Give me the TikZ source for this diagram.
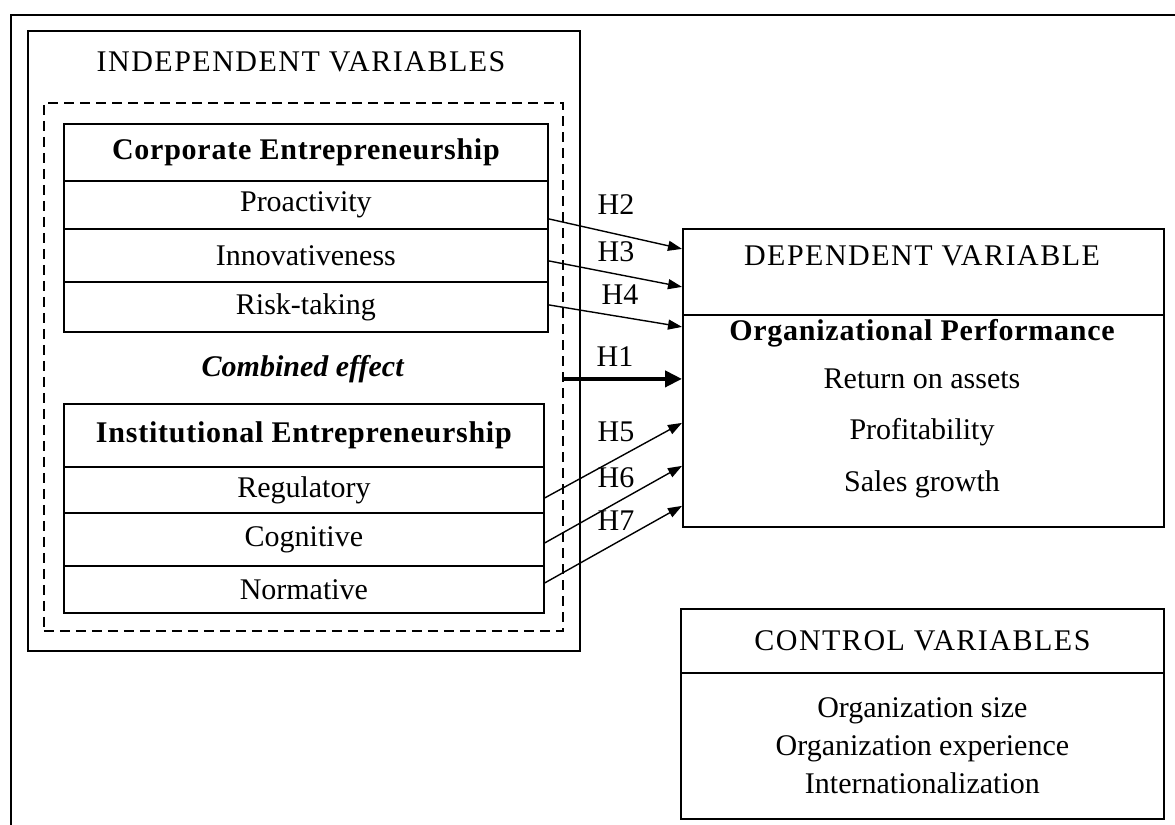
\documentclass[tikz,border=0pt]{standalone}
\usepackage{fontspec}
\setmainfont{Liberation Serif}
\usetikzlibrary{arrows.meta}
\newcommand{\capsp}{\addfontfeatures{LetterSpace=5}}
\newcommand{\boldsp}{\bfseries\addfontfeatures{LetterSpace=2.5}}

\begin{document}
\begin{tikzpicture}[x=0.5pt,y=-0.5pt,
		every node/.style={font=\fontsize{15}{19}\selectfont},
		cell/.style={draw,line width=0.9pt,anchor=north west,inner sep=0pt,minimum width=#1},
		cell/.default=242pt,
		hyp/.style={line width=0.7pt,-{Triangle[length=7pt,width=5pt]}}]
		\useasboundingbox (0,0) rectangle (1175,825);
		\draw[line width=0.9pt] (11,825) -- (11,15) -- (1175,15);
		% independent side
		\node[cell=276pt,minimum height=310pt] (indep) at (27,30) {};
		\node (indtitle) at (301,62) {\capsp INDEPENDENT VARIABLES};
		\node[cell=259.5pt,minimum height=264pt,dash pattern=on 5pt off 3pt] (ieframe) at (43,102) {};
		\node[cell,minimum height=28.5pt] (ce) at (63,123) {\boldsp Corporate Entrepreneurship};
		\node[cell,minimum height=24pt] (pro) at (63,180) {Proactivity};
		\node[cell,minimum height=26.5pt] (inn) at (63,228) {Innovativeness};
		\node[cell,minimum height=25pt] (risk) at (63,281) {Risk-taking};
		\node (comb) at (303,369) {\textbf{\textit{Combined effect}}};
		\node[cell=240pt,minimum height=31.5pt] (ie) at (63,403) {\boldsp Institutional Entrepreneurship};
		\node[cell=240pt,minimum height=23pt] (reg) at (63,466) {Regulatory};
		\node[cell=240pt,minimum height=26.5pt] (cog) at (63,512) {Cognitive};
		\node[cell=240pt,minimum height=23.5pt] (norm) at (63,565) {Normative};
		% dependent side
		\node[cell=240.5pt,minimum height=43pt] (dephead) at (682,228) {};
		\node (deptitle) at (922,256) {\capsp DEPENDENT VARIABLE};
		\node[cell=240.5pt,minimum height=106pt] (depbody) at (682,314) {};
		\node (perf) at (922,333) {\boldsp Organizational Performance};
		\node (roa) at (922,379) {Return on assets};
		\node (prof) at (922,432) {Profitability};
		\node (sales) at (922,484) {Sales growth};
		% controls
		\node[cell=241.5pt,minimum height=32pt] (ctrlhead) at (680,608) {\capsp CONTROL VARIABLES};
		\node[cell=241.5pt,minimum height=73pt,align=center] (ctrlbody) at (680,672)
			{Organization size\\Organization experience\\Internationalization};
		% hypotheses
		\foreach \src/\sy/\dst/\dy in {pro/-7/dephead/11.5, inn/-2.75/dephead/-7.5, risk/1/depbody/47,
			reg/-4/depbody/-1, cog/-1.75/depbody/-22.5, norm/3.25/depbody/-42.5}
		\draw[hyp] ([yshift=\sy pt]\src.east) -- ([yshift=\dy pt]\dst.west);
		\coordinate (h1end) at ([yshift=21pt]depbody.west);
		\draw[line width=2pt,-{Triangle[length=8.5pt,width=8pt]}] (ieframe.east |- h1end) -- (h1end);
		\foreach \n/\x/\y in {2/616/205, 3/616/252, 4/620/295, 1/615/357, 5/616/432, 6/616/478, 7/616/521}
		\node (h\n) at (\x,\y) {H\n};
\end{tikzpicture}
\end{document}
